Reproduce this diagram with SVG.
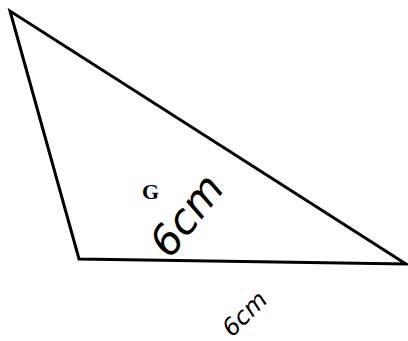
<svg xmlns="http://www.w3.org/2000/svg" width="408" height="341" viewBox="0 0 408 341">
<style>
.edge{fill:none;stroke:#000;stroke-width:3;stroke-linejoin:miter}
.lbl{font-family:"Liberation Serif",serif;font-weight:bold;fill:#000}
.hand{font-family:"DejaVu Sans",sans-serif;fill:#000;font-style:italic}
</style>
<rect width="408" height="341" fill="#fff"/>
<polygon class="edge" points="10,11 79,259 406,264"/>
<text class="lbl" x="142" y="199" font-size="22">G</text>
<text class="hand" font-size="42" transform="translate(170,260) rotate(-52)">6cm</text>
<text class="hand" font-size="24" transform="translate(232,338) rotate(-45)">6cm</text>
</svg>
